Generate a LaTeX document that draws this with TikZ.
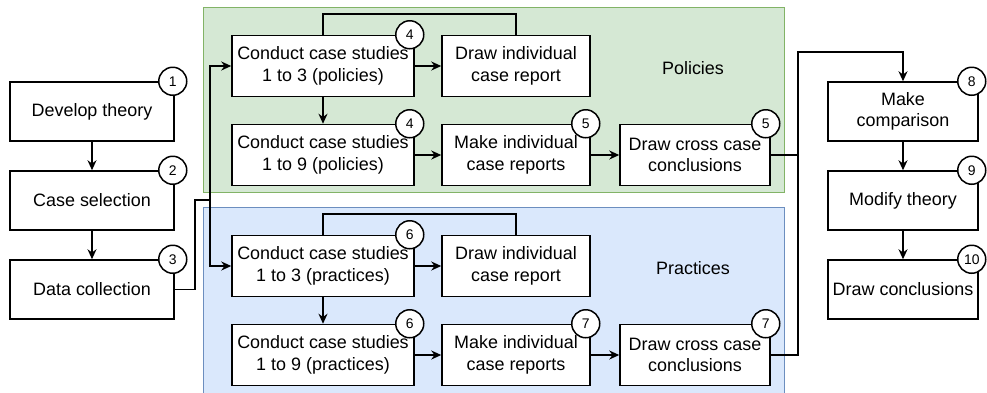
\documentclass[tikz,border=0pt]{standalone}
\usepackage{fontspec}
\setmainfont{Liberation Sans}
\usetikzlibrary{arrows.meta}

\definecolor{polfill}{HTML}{D5E8D4}
\definecolor{poledge}{HTML}{82B366}
\definecolor{pracfill}{HTML}{DAE8FC}
\definecolor{pracedge}{HTML}{6C8EBF}

\tikzset{
  box/.style={draw, fill=white, line width=1.5bp, align=center, inner sep=2bp,
    font=\fontsize{18}{21.5}\selectfont},
  num/.style={circle, draw, fill=white, line width=1.5bp, minimum size=28bp,
    inner sep=0bp, font=\fontsize{14}{14}\selectfont},
  grp/.style={line width=1bp},
  lbl/.style={font=\fontsize{18}{21.5}\selectfont}
}

\begin{document}
\begin{tikzpicture}[x=1bp, y=-1bp, >={Stealth[length=10bp,width=9bp]}, line width=1.5bp]
        \useasboundingbox (0, 0) rectangle (987, 392);

        % groups
        \begin{scope}
            \clip (0, 0) rectangle (987, 392);
            \draw[grp, draw=poledge, fill=polfill] (203.5, 7.5) rectangle (784.5, 192.5);
            \draw[grp, draw=pracedge, fill=pracfill] (203.5, 207.5) rectangle (784.5, 400);
        \end{scope}
        \node[lbl] (pl) at (693, 68) {Policies};
        \node[lbl] (ql) at (693, 268) {Practices};

        % left column
        \node[box, minimum width=164bp, minimum height=59bp] (theory) at (92, 111.5) {Develop theory};
        \node[box, minimum width=164bp, minimum height=59bp] (select) at (92, 200.5) {Case selection};
        \node[box, minimum width=164bp, minimum height=59bp] (collect) at (92, 289.5) {Data collection};

        % policies
        \node[box, minimum width=182bp, minimum height=61bp] (pa) at (323, 66) {Conduct case studies\\1 to 3 (policies)};
        \node[box, minimum width=148bp, minimum height=61bp] (pb) at (516, 66) {Draw individual\\case report};
        \node[box, minimum width=182bp, minimum height=61bp] (pc) at (323, 155) {Conduct case studies\\1 to 9 (policies)};
        \node[box, minimum width=148bp, minimum height=61bp] (pd) at (516, 155) {Make individual\\case reports};
        \node[box, minimum width=150bp, minimum height=61bp] (pe) at (695, 155) {Draw cross case\\conclusions};

        % practices
        \node[box, minimum width=182bp, minimum height=61bp] (qa) at (323, 266) {Conduct case studies\\1 to 3 (practices)};
        \node[box, minimum width=148bp, minimum height=61bp] (qb) at (516, 266) {Draw individual\\case report};
        \node[box, minimum width=182bp, minimum height=61bp] (qc) at (323, 355) {Conduct case studies\\1 to 9 (practices)};
        \node[box, minimum width=148bp, minimum height=61bp] (qd) at (516, 355) {Make individual\\case reports};
        \node[box, minimum width=150bp, minimum height=61bp] (qe) at (695, 355) {Draw cross case\\conclusions};

        % right column
        \node[box, minimum width=150bp, minimum height=59bp] (comp) at (903, 111.5) {Make\\comparison};
        \node[box, minimum width=150bp, minimum height=59bp] (modify) at (903, 200.5) {Modify theory};
        \node[box, minimum width=150bp, minimum height=59bp] (concl) at (903, 289.5) {Draw conclusions};

        % connectors
        \coordinate (k) at (195, 200);
        \coordinate (j) at (210, 200);
        \coordinate (r) at (798, 52);

        \draw[->] (theory) -- (select);
        \draw[->] (select) -- (collect);
        \draw (collect.east) -| (k) -- (j);
        \draw[->] (j) |- (pa);
        \draw[->] (j) |- (qa);

        \draw[->] (pa) -- (pb);
        \draw[->] (pa) -- (pc);
        \draw (pa.north) -- ++(0, -21) -| (pb.north);
        \draw[->] (pc) -- (pd);
        \draw[->] (pd) -- (pe);

        \draw[->] (qa) -- (qb);
        \draw[->] (qa) -- (qc);
        \draw (qa.north) -- ++(0, -21) -| (qb.north);
        \draw[->] (qc) -- (qd);
        \draw[->] (qd) -- (qe);

        \draw[->] (pe) -| (r) -| (comp);
        \draw (qe) -| (r);
        \draw[->] (comp) -- (modify);
        \draw[->] (modify) -- (concl);

        % step numbers
        \node[num] (n1) at ([xshift=-2bp]theory.north east) {1};
        \node[num] (n2) at ([xshift=-2bp]select.north east) {2};
        \node[num] (n3) at ([xshift=-2bp]collect.north east) {3};
        \node[num] (n4a) at ([xshift=-5bp]pa.north east) {4};
        \node[num] (n4b) at ([xshift=-5bp]pc.north east) {4};
        \node[num] (n5a) at ([xshift=-5bp]pd.north east) {5};
        \node[num] (n5b) at ([xshift=-5bp]pe.north east) {5};
        \node[num] (n6a) at ([xshift=-5bp]qa.north east) {6};
        \node[num] (n6b) at ([xshift=-5bp]qc.north east) {6};
        \node[num] (n7a) at ([xshift=-5bp]qd.north east) {7};
        \node[num] (n7b) at ([xshift=-5bp]qe.north east) {7};
        \node[num] (n8) at ([xshift=-7bp]comp.north east) {8};
        \node[num] (n9) at ([xshift=-7bp]modify.north east) {9};
        \node[num] (n10) at ([xshift=-7bp]concl.north east) {10};
    \end{tikzpicture}
\end{document}
